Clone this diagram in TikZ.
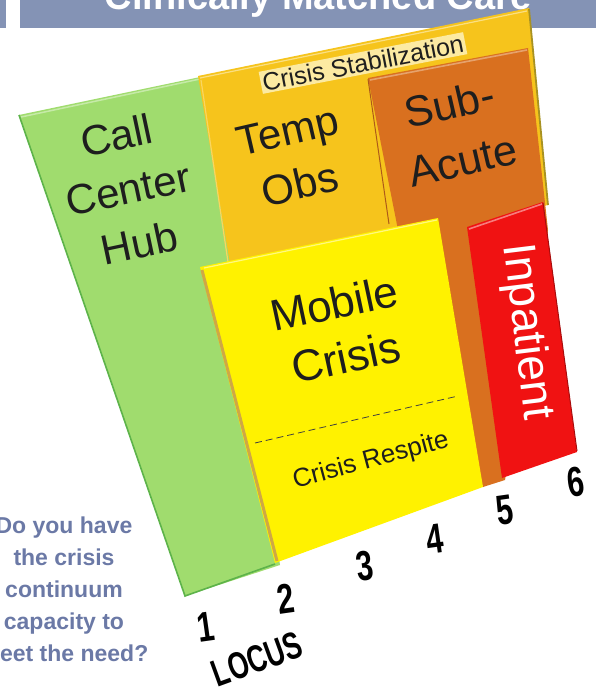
\documentclass[tikz,border=0pt]{standalone}
\usepackage{fontspec}
\setmainfont{Liberation Sans}
\definecolor{banner}{HTML}{8493B5}
\definecolor{qtext}{HTML}{6B79A6}
\definecolor{hubgreen}{HTML}{A0DC6E}
\definecolor{hubedge}{HTML}{5DB34A}
\definecolor{stabgold}{HTML}{F6C41C}
\definecolor{stabedge}{HTML}{A89222}
\definecolor{subor}{HTML}{D9701F}
\definecolor{mobyel}{HTML}{FFF200}
\definecolor{mobedge}{HTML}{CFA845}
\definecolor{inred}{HTML}{F01212}
\definecolor{labelbg}{HTML}{FCEAA2}
\definecolor{ink}{HTML}{1E1E1E}
\begin{document}
\begin{tikzpicture}[x=1pt,y=-1pt,
  boxlabel/.style={font=\fontsize{42}{55}\selectfont, text=ink, align=center, inner sep=0pt},
  smalllabel/.style={font=\fontsize{25}{30}\selectfont, text=ink, inner sep=0pt},
  locusnum/.style={font=\fontsize{42}{42}\selectfont\bfseries, text=black, inner sep=0pt, rotate=8},
  question/.style={font=\fontsize{23}{32}\selectfont\bfseries, text=qtext, align=center, inner sep=0pt},
  divider/.style={draw=ink!85, line width=0.8pt, dash pattern=on 7pt off 4pt}]
\useasboundingbox (0,0) rectangle (596,693);
\clip (0,0) rectangle (596,693);

% banner
\fill[banner] (20,0) rectangle (596,28);
\fill[banner] (0,0) rectangle (6,28);
\node[anchor=base, font=\fontsize{38}{38}\selectfont\bfseries, text=white, inner sep=0pt] (title) at (318,10) {Clinically Matched Care};

% Call Center Hub (green)
\fill[hubgreen] (19,115) -- (205,76) -- (280,565) -- (185,596) -- cycle;
\draw[hubedge, line width=1.6pt] (19,115) -- (185,596) -- (275,564);
\draw[hubgreen!60!white, line width=1.5pt] (21,117) -- (200,79);

% Crisis Stabilization frame (gold)
\fill[stabgold] (198,76) -- (529,8) -- (548,205) -- (232,275) -- cycle;
\draw[stabedge, line width=1.8pt] (529,9) -- (548,205);
\draw[stabgold!55!white, line width=1.2pt] (200,78) -- (527,11);
\draw[stabgold!70!white, line width=1.2pt] (201,80) -- (228,262);

% Sub-Acute (orange)
\fill[subor] (368,78) -- (528,48) -- (548,230) -- (505,480) -- (483,487) -- (400,240) -- cycle;
\draw[subor!65!white, line width=1.6pt] (370,80) -- (527,50);
\draw[subor!80!black, line width=1pt] (368,79) -- (389,224);

% Mobile Crisis (yellow)
\fill[mobyel] (200,267) -- (438,218) -- (483,487) -- (275,563) -- cycle;
\draw[mobedge, line width=3pt] (202,270) -- (277,561);
\draw[mobyel!50!white, line width=1.2pt] (204,268) -- (437,220);

% Inpatient (red)
\fill[inred] (467,227) -- (543,202) -- (577,452) -- (502,478) -- cycle;
\draw[inred!55!white, line width=1.6pt] (469,229) -- (542,204);
\draw[inred!70!black, line width=1pt] (543,203) -- (577,451);

% divider in Mobile Crisis
\draw[divider] (255,443) -- (458,396);

% labels
\node[smalllabel, fill=labelbg, inner xsep=2pt, inner ysep=2pt, rotate=11] (stab) at (363,63) {Crisis Stabilization};
\node[boxlabel, rotate=12] (hub) at (128,189) {Call\\Center\\Hub};
\node[boxlabel, rotate=13] (temp) at (294,158) {Temp\\Obs};
\node[boxlabel, rotate=13, font=\fontsize{43}{58}\selectfont] (sub) at (456,132) {Sub-\\Acute};
\node[boxlabel, rotate=12, font=\fontsize{44}{55}\selectfont] (mobile) at (340,330) {Mobile\\Crisis};
\node[smalllabel, font=\fontsize{26}{30}\selectfont, rotate=15] (respite) at (371,461) {Crisis Respite};
\node[boxlabel, text=white, rotate=-83, font=\fontsize{46}{46}\selectfont] (inpat) at (526,332) {Inpatient};

% locus axis
\node[locusnum] (n1) at (206,627) {\scalebox{0.72}[1]{1}};
\node[locusnum] (n2) at (286,599) {\scalebox{0.72}[1]{2}};
\node[locusnum] (n3) at (365,566) {\scalebox{0.72}[1]{3}};
\node[locusnum] (n4) at (435,539) {\scalebox{0.72}[1]{4}};
\node[locusnum] (n5) at (505,510) {\scalebox{0.72}[1]{5}};
\node[locusnum] (n6) at (576,482) {\scalebox{0.72}[1]{6}};
\node[font=\fontsize{38}{38}\selectfont\bfseries, inner sep=0pt, rotate=20] (locus) at (257,659) {\scalebox{0.70}[1]{LOCUS}};

% question
\node[question] (q) at (64,589) {Do you have\\the crisis\\continuum\\capacity to\\meet the need?};
\end{tikzpicture}
\end{document}
